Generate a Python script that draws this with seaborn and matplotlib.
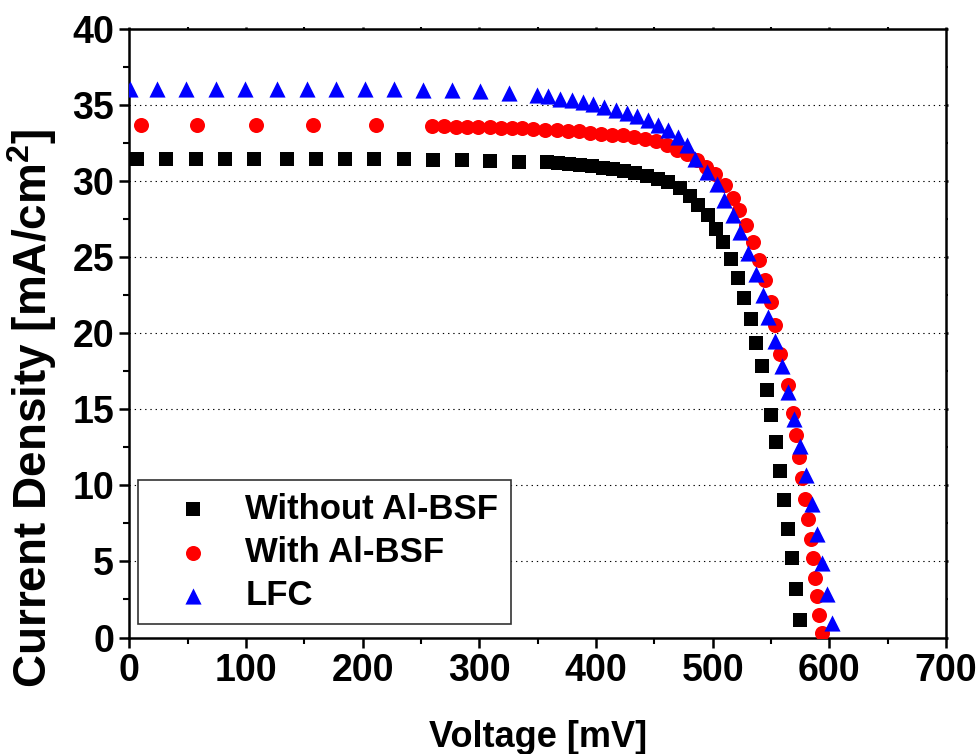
import matplotlib
matplotlib.use("Agg")
import matplotlib.pyplot as plt
import pandas as pd
import seaborn as sns
from matplotlib.ticker import MultipleLocator

# J-V curves of three rear-side variants
v_without = [6.3, 31.7, 57.2, 82.3, 107.1, 135.4, 160.3, 184.9, 210.0, 235.2, 260.0, 285.4, 309.4, 334.3,
             358.3, 367.7, 377.1, 386.3, 396.3, 405.8, 414.8, 424.3, 433.7, 443.5,
             452.9, 462.0, 472.0, 480.6, 487.7, 495.8, 502.6, 509.1, 515.5, 522.0,
             527.1, 532.6, 537.1, 542.0, 546.3, 550.0, 554.0, 557.7, 561.4, 564.9,
             568.3, 571.2, 574.9]
j_without = [31.5, 31.5, 31.5, 31.5, 31.5, 31.5, 31.45, 31.45, 31.45, 31.45, 31.4, 31.4, 31.35, 31.3,
             31.30, 31.23, 31.16, 31.10, 30.99, 30.90, 30.79, 30.68, 30.53, 30.35,
             30.16, 29.93, 29.56, 29.05, 28.42, 27.76, 26.89, 26.01, 24.87, 23.66,
             22.35, 20.97, 19.39, 17.86, 16.30, 14.61, 12.85, 10.93, 9.06, 7.15,
             5.22, 3.20, 1.12]

v_with = [9.8, 58.3, 108.3, 157.7, 211.2,
          259.7, 269.7, 279.8, 289.4, 299.1, 308.9, 318.3, 327.8, 336.8, 346.3,
          356.3, 366.3, 375.8, 385.5, 394.9, 404.3, 414.0, 423.4, 432.9, 442.0,
          451.5, 460.6, 469.2, 477.8, 486.3, 494.3, 502.2, 510.8, 517.2, 522.6,
          528.6, 534.3, 539.7, 544.9, 550.0, 553.4, 558.0, 564.9, 569.1, 571.5,
          574.3, 576.3, 579.2, 582.0, 584.1, 585.8, 587.7, 589.2, 591.4, 593.5]
j_with = [33.7, 33.7, 33.7, 33.7, 33.7,
          33.62, 33.62, 33.6, 33.6, 33.58, 33.56, 33.54, 33.52, 33.5, 33.47,
          33.40, 33.36, 33.31, 33.29, 33.20, 33.14, 33.07, 33.03, 32.91, 32.81,
          32.63, 32.37, 32.09, 31.78, 31.38, 30.92, 30.46, 29.74, 28.90, 28.09,
          27.11, 26.01, 24.85, 23.53, 22.06, 20.53, 18.66, 16.58, 14.76, 13.29,
          11.86, 10.51, 9.13, 7.81, 6.49, 5.24, 3.93, 2.70, 1.51, 0.28]

v_lfc = [0.6, 23.5, 48.9, 74.1, 99.2, 126.9, 152.3, 176.9, 202.0, 227.1, 252.0, 276.9, 300.6, 325.5,
         349.7, 359.1, 369.1, 379.2, 388.6, 397.7, 407.1, 417.2, 426.3, 435.4,
         444.9, 453.4, 462.0, 470.6, 477.8, 484.9, 494.9, 503.5, 510.0, 517.2,
         523.5, 530.6, 537.2, 542.9, 547.7, 553.4, 559.2, 564.8, 569.7, 574.9,
         580.0, 584.9, 589.2, 593.5, 598.3, 602.0]
j_lfc = [36.1, 36.1, 36.1, 36.1, 36.1, 36.1, 36.1, 36.1, 36.05, 36.05, 36.02, 35.98, 35.95, 35.82,
         35.66, 35.59, 35.44, 35.33, 35.22, 35.07, 34.89, 34.72, 34.49, 34.28,
         34.01, 33.68, 33.36, 32.91, 32.37, 31.49, 30.61, 29.80, 28.75, 27.76,
         26.66, 25.28, 23.93, 22.50, 21.07, 19.49, 17.83, 16.14, 14.39, 12.57,
         10.68, 8.80, 6.82, 4.89, 2.83, 0.94]

series_labels = ["Without Al-BSF", "With Al-BSF", "LFC"]

sns.set_style("white")
plt.rcParams["font.family"] = ["Liberation Sans", "DejaVu Sans"]
plt.rcParams["font.weight"] = "bold"
plt.rcParams["mathtext.default"] = "regular"
plt.rcParams["text.color"] = "black"
plt.rcParams["axes.labelcolor"] = "black"
plt.rcParams["xtick.color"] = "black"
plt.rcParams["ytick.color"] = "black"

fig = plt.figure(figsize=(9.79, 7.54), dpi=100)
ax = fig.add_axes([0.1321, 0.1545, 0.8342, 0.8066])

styles = [
    (v_without, j_without, "s", "black", 90),
    (v_with, j_with, "o", "red", 117),
    (v_lfc, j_lfc, "^", "blue", 135),
]
for (vx, jy, mk, col, size), lab in zip(styles, series_labels):
    df = pd.DataFrame({"Voltage": vx, "Current": jy})
    sns.scatterplot(data=df, x="Voltage", y="Current", marker=mk, color=col,
                    s=size, linewidth=0, label=lab, ax=ax, zorder=3)

ax.set_xlim(0, 700)
ax.set_ylim(0, 40)
ax.xaxis.set_major_locator(MultipleLocator(100))
ax.xaxis.set_minor_locator(MultipleLocator(50))
ax.yaxis.set_major_locator(MultipleLocator(5))
ax.yaxis.set_minor_locator(MultipleLocator(2.5))

# dotted horizontal grid at interior major ticks
for yv in range(5, 40, 5):
    ax.axhline(yv, color="black", lw=0.8, ls=(0, (1.2, 3.5)), zorder=1)

for side in ["left", "bottom", "top", "right"]:
    ax.spines[side].set_linewidth(1.8)
    ax.spines[side].set_color("black")

ax.tick_params(axis="both", which="major", direction="out", length=7, width=1.8,
               labelsize=27, pad=4, colors="black", bottom=True, left=True,
               top=True, right=True, labeltop=False, labelright=False)
ax.tick_params(axis="both", which="minor", direction="out", length=4.5, width=1.5,
               bottom=True, left=True, top=True, right=True)
# top and right ticks are only tiny nubs
for t in ax.xaxis.get_ticklines(minor=False)[1::2] + ax.yaxis.get_ticklines(minor=False)[1::2]:
    t.set_markersize(1.5)
for t in ax.xaxis.get_ticklines(minor=True)[1::2] + ax.yaxis.get_ticklines(minor=True)[1::2]:
    t.set_markersize(1.2)
for lbl in ax.get_xticklabels() + ax.get_yticklabels():
    lbl.set_fontweight("bold")
    lbl.set_color("black")

ax.set_xlabel("Voltage [mV]", fontsize=26, fontweight="bold", color="black")
ax.set_ylabel("Current Density [mA/cm$^2$]", fontsize=33, fontweight="bold", color="black")
ax.xaxis.set_label_coords(0.5, -0.135)
ax.yaxis.set_label_coords(-0.086, 0.377)

leg = ax.legend(loc="lower left", bbox_to_anchor=(0.0107, 0.0214), borderaxespad=0,
                frameon=True, fancybox=False, handlelength=2.48,
                handletextpad=0.26, borderpad=0.35, labelspacing=0.3,
                prop={"weight": "bold", "size": 25})
leg.get_frame().set_edgecolor("#333333")
leg.get_frame().set_linewidth(1.2)
leg.get_frame().set_alpha(1)
for txt in leg.get_texts():
    txt.set_color("black")

fig.savefig("out.png", dpi=100)
